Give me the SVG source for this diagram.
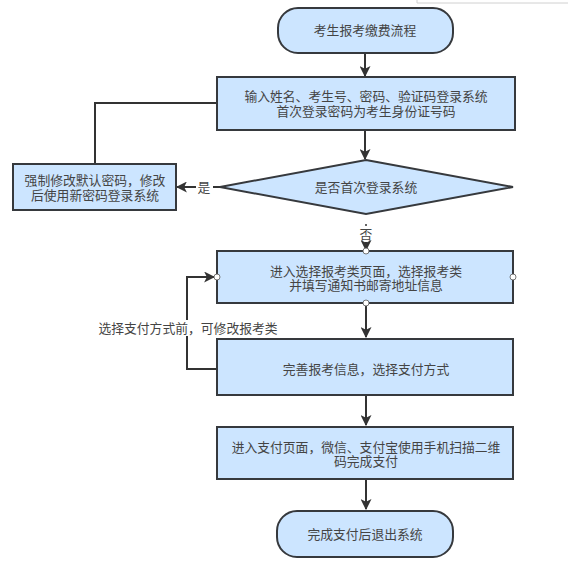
<svg xmlns="http://www.w3.org/2000/svg" width="568" height="567" viewBox="0 0 568 567">
<defs>
<style>
.n{fill:#cce5ff;stroke:#36393d;stroke-width:2}
.t{font-family:"Liberation Sans","Noto Sans CJK SC",sans-serif;font-size:12.8px;fill:#444;text-anchor:middle}
.c{fill:none;stroke:#333;stroke-width:2}
.p{fill:#fff;stroke:#555;stroke-width:0.8}
</style>
<marker id="a" viewBox="0 0 10 10" refX="9" refY="5" markerWidth="11" markerHeight="11" markerUnits="userSpaceOnUse" orient="auto">
<path d="M0,0 L10,5 L0,10 L2.5,5 Z" fill="#333"/>
</marker>
</defs>
<rect width="568" height="567" fill="#fff"/>
<path d="M417,0 V3 H568" fill="none" stroke="#d0d0d0" stroke-width="1"/>
<g id="connectors">
<path class="c" d="M365,53 V76" marker-end="url(#a)"/>
<path class="c" d="M365,130 V159" marker-end="url(#a)"/>
<path class="c" d="M220,187 H213"/>
<path class="c" d="M196,187 H177" marker-end="url(#a)"/>
<text class="t" x="204" y="191.5">是</text>
<path class="c" d="M217,103 H95 V164"/>
<circle cx="366" cy="225" r="1" fill="#333"/>
<text class="t" x="366" y="238.5">否</text>
<path class="c" d="M366,242 V250" marker-end="url(#a)"/>
<path class="c" d="M366,303 V337" marker-end="url(#a)"/>
<path class="c" d="M216,369 H187 V336"/>
<path class="c" d="M187,320 V277 H214" marker-end="url(#a)"/>
<text class="t" x="188" y="332.5">选择支付方式前，可修改报考类</text>
<path class="c" d="M366,395 V425" marker-end="url(#a)"/>
<path class="c" d="M366,479 V509" marker-end="url(#a)"/>
</g>
<g id="start">
<rect class="n" x="278" y="8" width="175" height="45" rx="20"/>
<text class="t" x="365" y="35">考生报考缴费流程</text>
</g>
<g id="login">
<rect class="n" x="217" y="77" width="298" height="53"/>
<text class="t" x="366" y="100.5">输入姓名、考生号、密码、验证码登录系统</text>
<text class="t" x="366" y="115.5">首次登录密码为考生身份证号码</text>
</g>
<g id="decision">
<polygon class="n" points="366,160 513,187 366,214 220,187"/>
<text class="t" x="366" y="191.5">是否首次登录系统</text>
</g>
<g id="changepwd">
<rect class="n" x="13" y="164" width="163" height="46"/>
<text class="t" x="95" y="184.5">强制修改默认密码，修改</text>
<text class="t" x="95" y="199.5">后使用新密码登录系统</text>
</g>
<g id="choose">
<rect class="n" x="217" y="251" width="296" height="52"/>
<text class="t" x="366" y="275.5">进入选择报考类页面，选择报考类</text>
<text class="t" x="366" y="289.5">并填写通知书邮寄地址信息</text>
<circle class="p" cx="366" cy="251" r="3"/>
<circle class="p" cx="217" cy="277" r="3"/>
<circle class="p" cx="513" cy="277" r="3"/>
<circle class="p" cx="366" cy="303" r="3"/>
</g>
<g id="complete">
<rect class="n" x="217" y="339" width="296" height="56"/>
<text class="t" x="366" y="373.5">完善报考信息，选择支付方式</text>
</g>
<g id="pay">
<rect class="n" x="217" y="427" width="296" height="52"/>
<text class="t" x="366" y="451.5">进入支付页面，微信、支付宝使用手机扫描二维</text>
<text class="t" x="366" y="465.5">码完成支付</text>
</g>
<g id="end">
<rect class="n" x="277" y="511" width="176" height="46" rx="20"/>
<text class="t" x="365" y="538.5">完成支付后退出系统</text>
</g>
</svg>
